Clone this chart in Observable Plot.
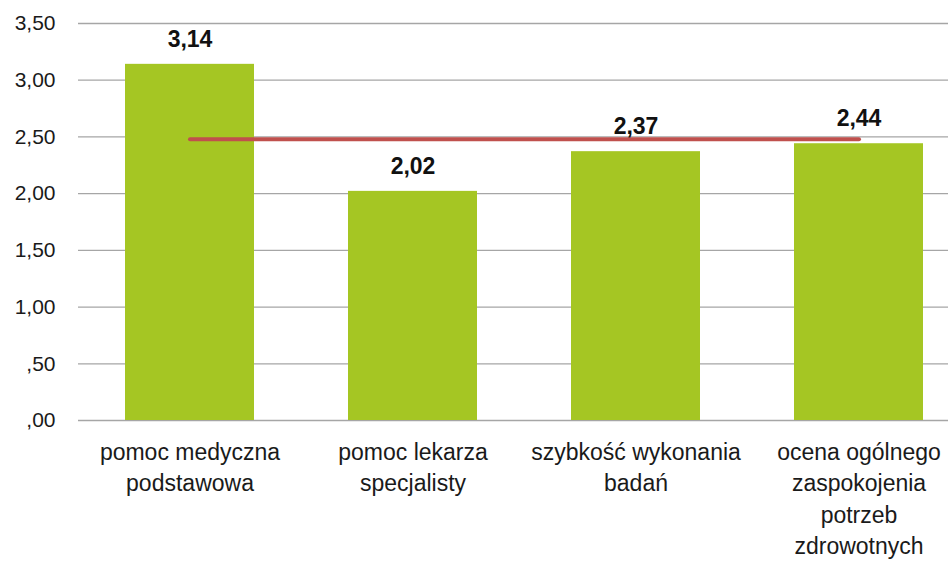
<!DOCTYPE html>
<html>
<head>
<meta charset="utf-8">
<script src="https://cdn.jsdelivr.net/npm/d3@7"></script>
<script src="https://cdn.jsdelivr.net/npm/@observablehq/plot@0.6"></script>
<style>
  html, body { margin: 0; padding: 0; background: white; overflow: hidden; }
</style>
</head>
<body>
<div id="chart"></div>
<script>
const categories = [
  "pomoc medyczna\npodstawowa",
  "pomoc lekarza\nspecjalisty",
  "szybkość wykonania\nbadań",
  "ocena ogólnego\nzaspokojenia\npotrzeb\nzdrowotnych"
];
const values = [3.14, 2.02, 2.37, 2.44];
const lineValues = [2.48, 2.48, 2.48, 2.48];
const yTicks = [0, 0.5, 1, 1.5, 2, 2.5, 3, 3.5];

const data = categories.map((c, i) => ({cat: c, value: values[i], line: lineValues[i]}));
const fmt = v => v.toFixed(2).replace(".", ",");
const yfmt = v => fmt(v).replace(/^0,/, ",");

const FONT = "'Liberation Sans', Arial, sans-serif";

const chart = Plot.plot({
  width: 948,
  height: 562,
  marginLeft: 78,
  marginRight: -23,
  marginTop: 23,
  marginBottom: 142,
  style: {fontFamily: FONT, background: "white", color: "#1a1a1a"},
  x: {domain: categories, paddingInner: 0.42, paddingOuter: 0.21, axis: null},
  y: {domain: [0, 3.5], axis: null},
  marks: [
    Plot.gridY(yTicks, {stroke: "#a6a6a6", strokeOpacity: 1, strokeWidth: 1.3}),
    Plot.barY(data, {x: "cat", y: "value", fill: "#a5c623"}),
    Plot.lineY(data, {x: "cat", y: "line", stroke: "#c0504d", strokeWidth: 4, strokeLinecap: "round"}),
    Plot.text(data, {x: "cat", y: "value", text: d => fmt(d.value), dy: -25, fontWeight: "bold", fontSize: 23, fill: "#111"}),
    Plot.axisY({ticks: yTicks, tickSize: 0, tickPadding: 23, tickFormat: yfmt, fontSize: 21, label: null}),
    Plot.axisX({tickSize: 0, tickPadding: 17, fontSize: 23, lineHeight: 1.37, label: null})
  ]
});
document.getElementById("chart").append(chart);
</script>
</body>
</html>
